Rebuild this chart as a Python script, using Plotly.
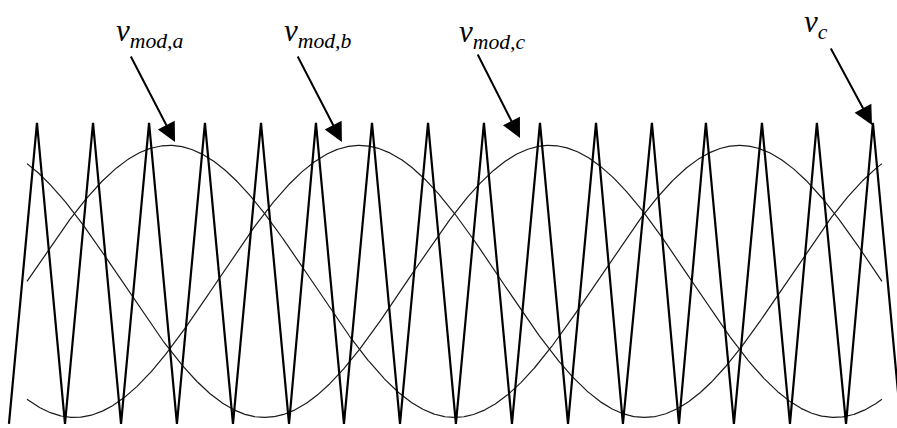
import numpy as np
import plotly.graph_objects as go

# Triangular carrier v_c: vertex times (electrical degrees) and levels
carrier_deg = [-11.4, 6.3, 24.0, 41.7, 59.4, 77.1, 94.7, 112.4, 130.1, 147.8,
               165.5, 182.5, 200.2, 217.9, 235.6, 253.3, 270.9, 288.6, 306.3,
               324.0, 341.7, 359.4, 376.4, 394.7, 411.8, 428.8, 446.5, 464.2,
               481.9, 498.9, 517.3, 534.3, 552.0]
carrier_val = [-1, 1, -1, 1, -1, 1, -1, 1, -1, 1, -1, 1, -1, 1, -1, 1, -1,
               1, -1, 1, -1, 1, -1, 1, -1, 1, -1, 1, -1, 1, -1, 1, -1]

# Three-phase modulating references
mod_index = 0.904
mod_bias = -0.053
mod_phase_deg = {"a": 0.0, "b": 120.0, "c": 240.0}
mod_span_deg = [0.0, 540.0]

theta = np.linspace(mod_span_deg[0], mod_span_deg[1], 1500)

fig = go.Figure()

for ph, shift in mod_phase_deg.items():
    v = mod_index * np.sin(np.radians(theta - shift)) + mod_bias
    fig.add_trace(go.Scatter(x=theta, y=v, mode="lines",
                             line=dict(color="#1a1a1a", width=1.2),
                             name=f"v_mod,{ph}", hoverinfo="skip"))

fig.add_trace(go.Scatter(x=carrier_deg, y=carrier_val, mode="lines",
                         line=dict(color="black", width=2.2),
                         name="v_c", hoverinfo="skip"))

label_font = dict(family="Liberation Serif, Times New Roman, serif",
                  size=31, color="black")

labels = [
    ("<i>v</i><sub><i>mod,a</i></sub>", 77.7, 1.60),
    ("<i>v</i><sub><i>mod,b</i></sub>", 183.8, 1.60),
    ("<i>v</i><sub><i>mod,c</i></sub>", 293.7, 1.59),
    ("<i>v</i><sub><i>c</i></sub>", 498.3, 1.655),
]
for txt, x, y in labels:
    fig.add_annotation(x=x, y=y, xref="x", yref="y", text=txt,
                       showarrow=False, font=label_font,
                       xanchor="center", yanchor="middle")

# Pointer arrows: (tail_x, tail_y, tip_x, tip_y)
pointers = [
    (65.1, 1.452, 93.5, 0.874),
    (170.5, 1.452, 198.9, 0.874),
    (284.2, 1.465, 311.4, 0.900),
    (507.2, 1.505, 533.7, 0.987),
]
for tx, ty, hx, hy in pointers:
    fig.add_annotation(x=hx, y=hy, ax=tx, ay=ty, xref="x", yref="y",
                       axref="x", ayref="y", text="", showarrow=True,
                       arrowhead=2, arrowsize=1.9, arrowwidth=2,
                       arrowcolor="black", standoff=0)

fig.update_layout(
    width=897, height=428,
    margin=dict(l=0, r=0, t=0, b=0),
    paper_bgcolor="white", plot_bgcolor="white",
    showlegend=False,
    xaxis=dict(range=[-17.05, 549.5], visible=False, fixedrange=True),
    yaxis=dict(range=[-1.027, 1.817], visible=False, fixedrange=True),
)

fig.write_html("out.html")
